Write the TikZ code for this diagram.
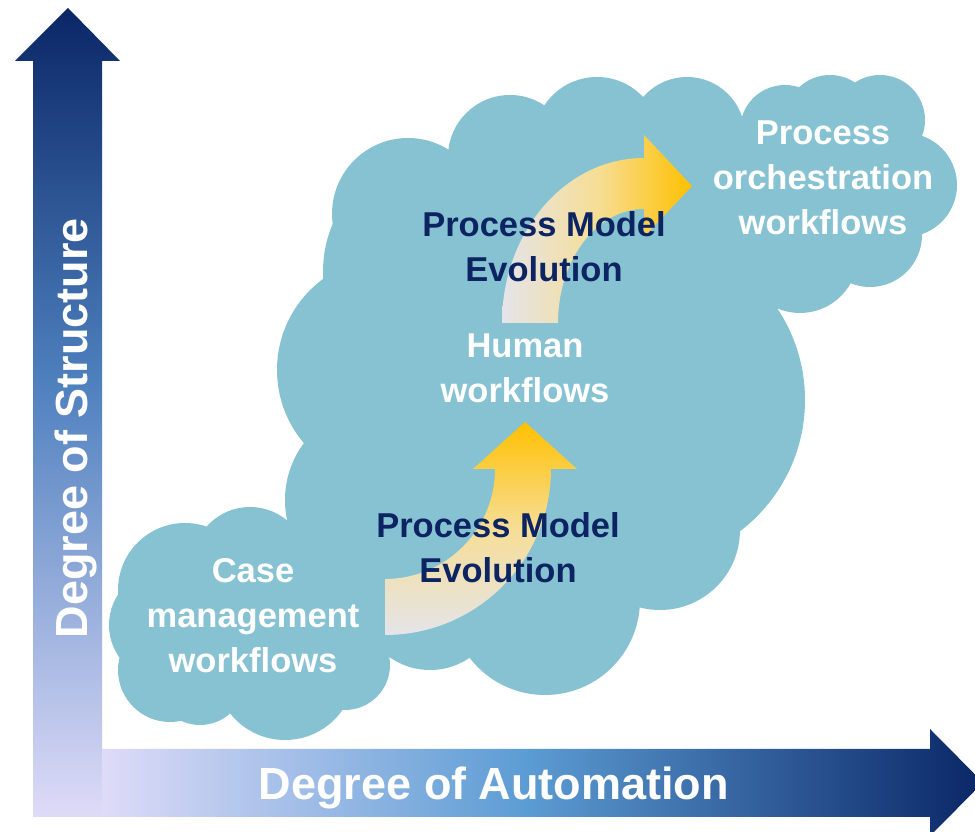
\documentclass[tikz,border=0pt]{standalone}
\usepackage{fontspec}
\setmainfont{Liberation Sans}

\definecolor{cloudblue}{RGB}{135,194,210}
\definecolor{labelnavy}{RGB}{12,36,97}
\definecolor{axisdark}{RGB}{10,38,102}
\definecolor{axismid}{RGB}{92,156,212}
\definecolor{axissoft}{RGB}{78,128,190}
\definecolor{axislight}{RGB}{222,219,248}
\definecolor{evoyellow}{RGB}{255,192,0}
\definecolor{evopale}{RGB}{246,222,150}
\definecolor{evogrey}{RGB}{228,228,234}

% gradients for the two axes and the two evolution arrows
% (a path is fitted to the 25bp--75bp part of a shading)
\pgfdeclarehorizontalshading{automation}{100bp}{color(0bp)=(axislight); color(25bp)=(axislight);
    color(49bp)=(axismid); color(75bp)=(axisdark); color(100bp)=(axisdark)}
\pgfdeclareverticalshading{structure}{100bp}{color(0bp)=(axislight); color(25bp)=(axislight);
    color(52bp)=(axissoft); color(75bp)=(axisdark); color(100bp)=(axisdark)}
\pgfdeclareverticalshading{evoup}{100bp}{color(0bp)=(evogrey); color(25bp)=(evogrey);
    color(50bp)=(evopale); color(75bp)=(evoyellow); color(100bp)=(evoyellow)}
\pgfdeclarehorizontalshading{evoright}{100bp}{color(0bp)=(evogrey); color(25bp)=(evogrey);
    color(50bp)=(evopale); color(75bp)=(evoyellow); color(100bp)=(evoyellow)}

\begin{document}
\begin{tikzpicture}[x=1pt, y=1pt,
    cloud/.style={fill=cloudblue},
    flowlabel/.style={text=white, font=\fontsize{34.5}{45}\selectfont\bfseries, align=center, inner sep=0pt},
    evolabel/.style={flowlabel, text=labelnavy},
    axislabel/.style={text=white, font=\fontsize{45}{54}\selectfont\bfseries, inner sep=0pt, anchor=base}]

    \useasboundingbox (0,0) rectangle (975,832);
    \clip (0,0) rectangle (975,832);

    % axes
    \shade[shading=structure] (33,15) -- (102,15) -- (102,771) -- (120,771) -- (68,824)
        -- (15,771) -- (33,771) -- cycle;
    \shade[shading=automation] (102,15) -- (930,15) -- (930,-4) -- (983,49.5)
        -- (930,103) -- (930,83) -- (102,83) -- cycle;

    % one cloud made of lobes
    \fill[cloud]
        % main cloud
        (540,452) circle[radius=230]
        (408,618) circle[radius=76]
        (402,560) ellipse[x radius=79, y radius=100]
        (510,675) circle[radius=62]
        (597,692) circle[radius=63]
        (687,697) circle[radius=58]
        (690,620) circle[radius=60]
        (745,585) circle[radius=55]
        (640,432) circle[radius=165]
        (660,302) circle[radius=80]
        (545,232) circle[radius=95]
        (430,232) circle[radius=70]
        (390,462) circle[radius=113]
        (380,332) circle[radius=95]
        % orchestration cloud
        (830,647) ellipse[x radius=110, y radius=90]
        (785,702) circle[radius=45]
        (830,712) circle[radius=45]
        (880,712) circle[radius=45]
        (905,647) circle[radius=52]
        (870,597) circle[radius=52]
        (800,577) circle[radius=58]
        % case cloud
        (260,207) ellipse[x radius=120, y radius=85]
        (185,242) circle[radius=67]
        (250,267) circle[radius=58]
        (165,207) circle[radius=56]
        (170,162) circle[radius=52]
        (200,152) circle[radius=45]
        (285,162) circle[radius=70]
        (345,167) circle[radius=45];

    % evolution arrows
    \shade[shading=evoup] (385,197) arc[start angle=-90, end angle=0, radius=166]
        -- (577,363) -- (525,410) -- (473,363) -- (495,363)
        arc[start angle=0, end angle=-90, radius=110] -- cycle;
    \shade[shading=evoright] (502,509) arc[start angle=180, end angle=90, x radius=142, y radius=165]
        -- (644,697) -- (692,646) -- (644,595) -- (644,623)
        arc[start angle=90, end angle=180, x radius=86, y radius=114] -- cycle;

    \node[flowlabel] (orchflow) at (823,654) {Process\\orchestration\\workflows};
    \node[evolabel] (evohigh) at (544,585) {Process Model\\Evolution};
    \node[flowlabel] (humanflow) at (525,464) {Human\\workflows};
    \node[evolabel] (evolow) at (498,284) {Process Model\\Evolution};
    \node[flowlabel] (caseflow) at (253,216) {Case\\management\\workflows};

    \node[axislabel] (autolabel) at (494,32) {Degree of Automation};
    \node[axislabel, rotate=90] (structlabel) at (87,404) {Degree of Structure};
\end{tikzpicture}
\end{document}
